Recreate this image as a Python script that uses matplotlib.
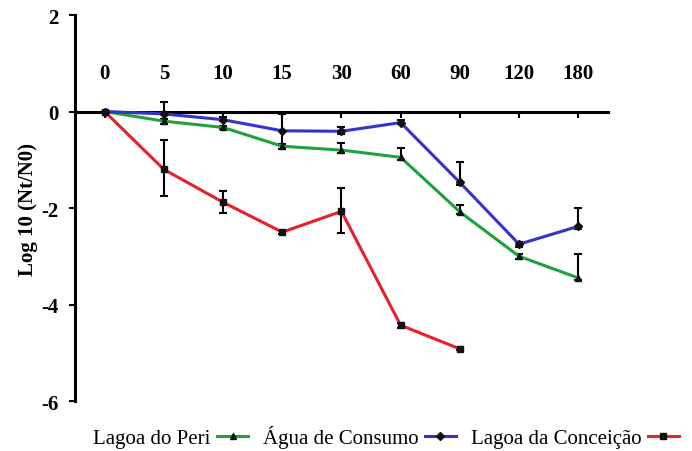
import matplotlib.pyplot as plt
import numpy as np

plt.rcParams['font.family'] = ['Liberation Serif', 'DejaVu Serif']

tempos = ['0', '5', '10', '15', '30', '60', '90', '120', '180']

# Lagoa do Peri (verde, triangulo)
peri = [0, -0.2, -0.33, -0.72, -0.8, -0.95, -2.08, -3.0, -3.45]
peri_baixo = [0, 0.05, 0.03, 0.05, 0.05, 0.05, 0.05, 0.05, 0.05]
peri_cima = [0, 0.05, 0.03, 0.05, 0.14, 0.2, 0.15, 0.05, 0.5]

# Agua de Consumo (azul, losango)
consumo = [0, -0.05, -0.17, -0.4, -0.41, -0.23, -1.47, -2.75, -2.38]
consumo_baixo = [0, 0.2, 0.03, 0.3, 0.05, 0.03, 0.05, 0.05, 0.05]
consumo_cima = [0, 0.25, 0.05, 0.35, 0.08, 0.05, 0.42, 0.05, 0.37]

# Lagoa da Conceicao (vermelho, quadrado)
conceicao = [0, -1.2, -1.88, -2.5, -2.07, -4.43, -4.92]
conceicao_baixo = [0, 0.56, 0.23, 0.03, 0.45, 0.05, 0.03]
conceicao_cima = [0, 0.6, 0.23, 0.03, 0.48, 0.05, 0.03]

fig = plt.figure(figsize=(6.92, 4.52), dpi=100)
ax = fig.add_axes([0.1084, 0.1106, 0.77, 0.854])

x = np.arange(len(tempos))

series = [
    ('Lagoa do Peri', peri, peri_baixo, peri_cima, '#1fa23a', '^'),
    ('Água de Consumo', consumo, consumo_baixo, consumo_cima, '#3434c8', 'D'),
    ('Lagoa da Conceição', conceicao, conceicao_baixo, conceicao_cima, '#e3222b', 's'),
]

for nome, vals, lo, hi, cor, mk in series:
    xs = x[:len(vals)]
    ax.errorbar(xs, vals, yerr=[lo, hi], fmt='none', ecolor='black',
                elinewidth=1.5, capsize=3, capthick=1.5, zorder=2)
    ax.plot(xs, vals, color=cor, lw=2.2, marker=mk, markersize=4,
            markerfacecolor='#111111', markeredgecolor='#111111',
            label=nome, zorder=3)

ax.set_xlim(-0.5, 8.5)
ax.set_ylim(-6, 2)
ax.spines['top'].set_visible(False)
ax.spines['right'].set_visible(False)
ax.spines['bottom'].set_position(('data', 0))
ax.spines['bottom'].set_linewidth(2.2)
ax.spines['left'].set_linewidth(2.2)

ax.set_xticks(x)
ax.set_xticklabels([])
ax.tick_params(axis='x', direction='out', length=4, width=1.5)
for i, t in enumerate(tempos):
    ax.text(i, 0.8, t, ha='center', va='center', fontsize=15, fontweight='bold')

ax.set_yticks([2, 0, -2, -4, -6])
ax.set_yticklabels(['2', '0', '-2', '-4', '-6'], fontsize=15, fontweight='bold')
ax.tick_params(axis='y', direction='out', length=4, width=1.5, pad=8)
ax.set_ylabel('Log 10 (Nt/N0)', fontsize=15, fontweight='bold', labelpad=2)

fig.legend(loc='lower center', bbox_to_anchor=(0.558, -0.035), ncol=3,
           frameon=False, markerfirst=False, fontsize=15,
           handlelength=1.5, handletextpad=0.3, columnspacing=0.7)

fig.savefig('out.png', dpi=100)
